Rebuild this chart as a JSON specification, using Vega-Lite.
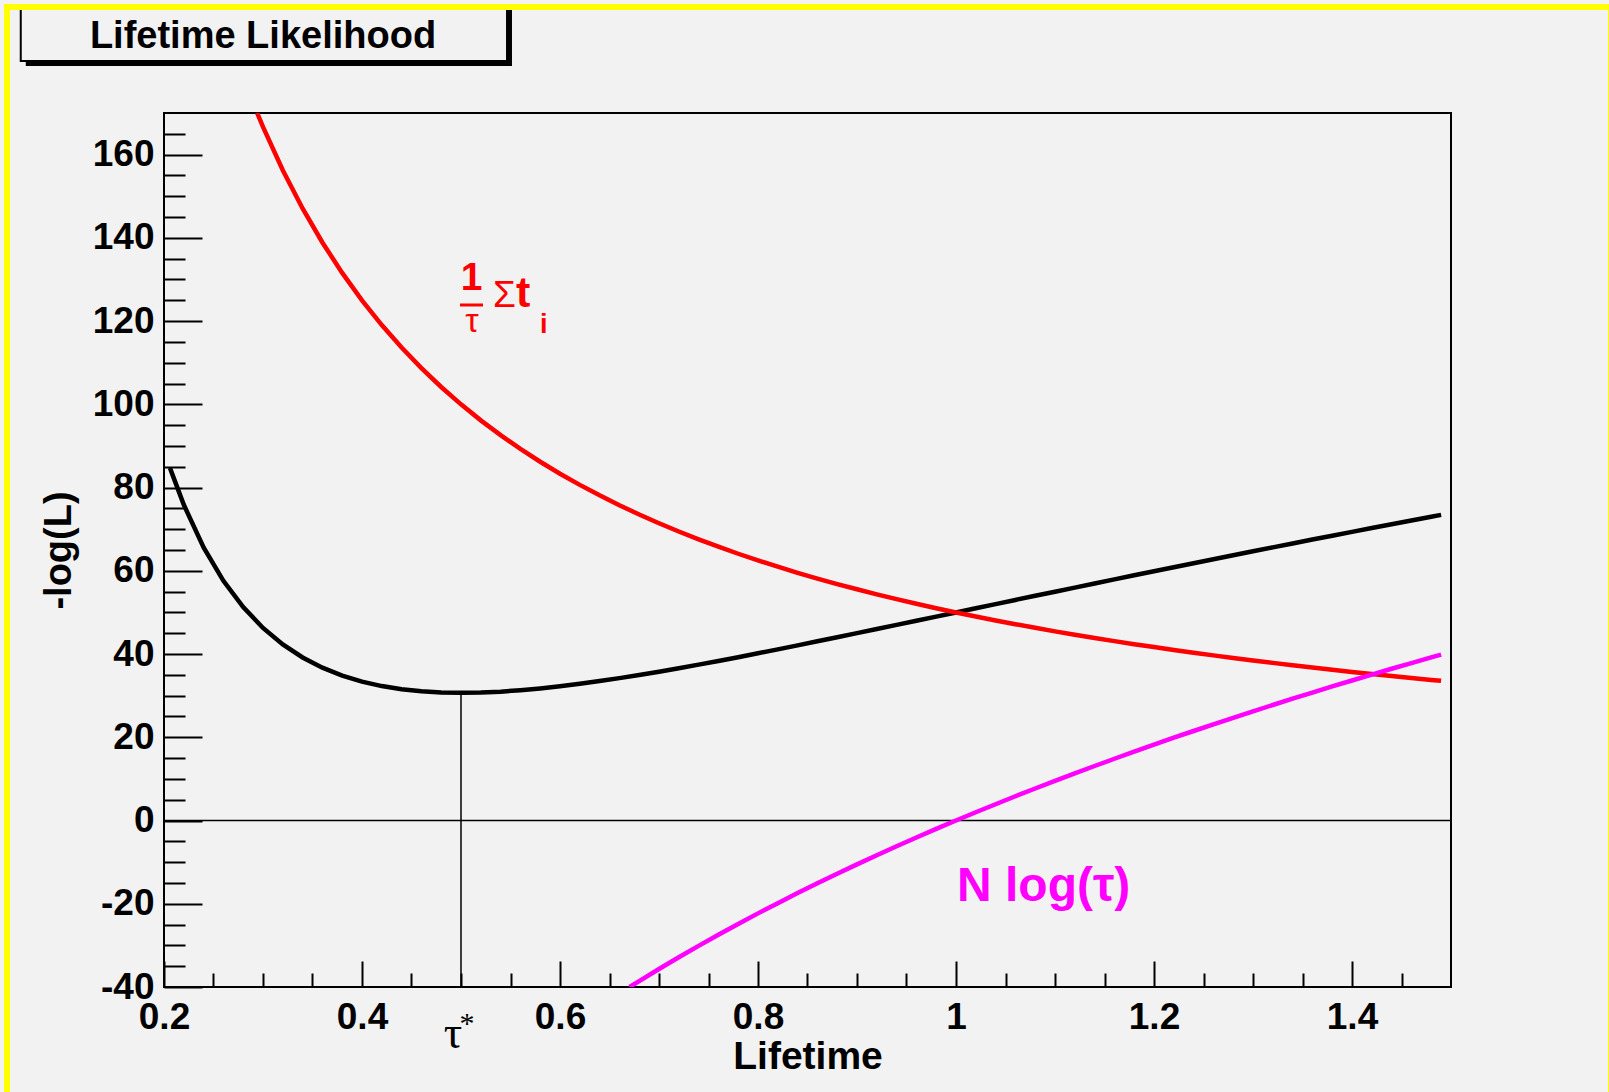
{
  "$schema": "https://vega.github.io/schema/vega-lite/v6.json",
  "width": 1287,
  "height": 874,
  "autosize": "none",
  "padding": {"left": 164, "top": 113, "right": 158, "bottom": 105},
  "background": "#f2f2f2",
  "config": {
    "view": {"stroke": "#000000", "strokeWidth": 2},
    "font": "Liberation Sans",
    "axis": {"domain": false, "grid": false, "labelColor": "#000000", "tickColor": "#000000", "titleColor": "#000000"}
  },
  "datasets": {
    "black": [
      {"tau": 0.206, "v": 84.73}, {"tau": 0.22, "v": 75.86}, {"tau": 0.24, "v": 65.62}, {"tau": 0.26, "v": 57.6},
      {"tau": 0.28, "v": 51.27}, {"tau": 0.3, "v": 46.27}, {"tau": 0.32, "v": 42.31}, {"tau": 0.34, "v": 39.18},
      {"tau": 0.36, "v": 36.72}, {"tau": 0.38, "v": 34.82}, {"tau": 0.4, "v": 33.37}, {"tau": 0.42, "v": 32.3},
      {"tau": 0.44, "v": 31.54}, {"tau": 0.46, "v": 31.05}, {"tau": 0.48, "v": 30.77}, {"tau": 0.5, "v": 30.69},
      {"tau": 0.52, "v": 30.76}, {"tau": 0.54, "v": 30.97}, {"tau": 0.56, "v": 31.31}, {"tau": 0.58, "v": 31.74},
      {"tau": 0.6, "v": 32.25}, {"tau": 0.62, "v": 32.85}, {"tau": 0.64, "v": 33.5}, {"tau": 0.66, "v": 34.21},
      {"tau": 0.68, "v": 34.96}, {"tau": 0.7, "v": 35.76}, {"tau": 0.72, "v": 36.59}, {"tau": 0.74, "v": 37.46},
      {"tau": 0.76, "v": 38.35}, {"tau": 0.78, "v": 39.25}, {"tau": 0.8, "v": 40.19}, {"tau": 0.82, "v": 41.13},
      {"tau": 0.84, "v": 42.08}, {"tau": 0.86, "v": 43.06}, {"tau": 0.88, "v": 44.04}, {"tau": 0.9, "v": 45.02},
      {"tau": 0.92, "v": 46.01}, {"tau": 0.94, "v": 47.0}, {"tau": 0.96, "v": 48.0}, {"tau": 0.98, "v": 49.0},
      {"tau": 1.0, "v": 50.0}, {"tau": 1.02, "v": 51.0}, {"tau": 1.04, "v": 52.0}, {"tau": 1.06, "v": 53.0},
      {"tau": 1.08, "v": 54.0}, {"tau": 1.1, "v": 54.98}, {"tau": 1.12, "v": 55.97}, {"tau": 1.14, "v": 56.96},
      {"tau": 1.16, "v": 57.94}, {"tau": 1.18, "v": 58.92}, {"tau": 1.2, "v": 59.9}, {"tau": 1.22, "v": 60.87},
      {"tau": 1.24, "v": 61.83}, {"tau": 1.26, "v": 62.79}, {"tau": 1.28, "v": 63.75}, {"tau": 1.3, "v": 64.7},
      {"tau": 1.32, "v": 65.64}, {"tau": 1.34, "v": 66.58}, {"tau": 1.36, "v": 67.51}, {"tau": 1.38, "v": 68.44},
      {"tau": 1.4, "v": 69.36}, {"tau": 1.42, "v": 70.28}, {"tau": 1.44, "v": 71.18}, {"tau": 1.46, "v": 72.09},
      {"tau": 1.48, "v": 72.98}, {"tau": 1.49, "v": 73.44}
    ],
    "red": [
      {"tau": 0.2941, "v": 170.0}, {"tau": 0.3, "v": 166.67}, {"tau": 0.32, "v": 156.25}, {"tau": 0.34, "v": 147.06},
      {"tau": 0.36, "v": 138.89}, {"tau": 0.38, "v": 131.58}, {"tau": 0.4, "v": 125.0}, {"tau": 0.42, "v": 119.05},
      {"tau": 0.44, "v": 113.64}, {"tau": 0.46, "v": 108.7}, {"tau": 0.48, "v": 104.17}, {"tau": 0.5, "v": 100.0},
      {"tau": 0.52, "v": 96.15}, {"tau": 0.54, "v": 92.59}, {"tau": 0.56, "v": 89.29}, {"tau": 0.58, "v": 86.21},
      {"tau": 0.6, "v": 83.33}, {"tau": 0.62, "v": 80.65}, {"tau": 0.64, "v": 78.13}, {"tau": 0.66, "v": 75.76},
      {"tau": 0.68, "v": 73.53}, {"tau": 0.7, "v": 71.43}, {"tau": 0.72, "v": 69.44}, {"tau": 0.74, "v": 67.57},
      {"tau": 0.76, "v": 65.79}, {"tau": 0.78, "v": 64.1}, {"tau": 0.8, "v": 62.5}, {"tau": 0.82, "v": 60.98},
      {"tau": 0.84, "v": 59.52}, {"tau": 0.86, "v": 58.14}, {"tau": 0.88, "v": 56.82}, {"tau": 0.9, "v": 55.56},
      {"tau": 0.92, "v": 54.35}, {"tau": 0.94, "v": 53.19}, {"tau": 0.96, "v": 52.08}, {"tau": 0.98, "v": 51.02},
      {"tau": 1.0, "v": 50.0}, {"tau": 1.02, "v": 49.02}, {"tau": 1.04, "v": 48.08}, {"tau": 1.06, "v": 47.17},
      {"tau": 1.08, "v": 46.3}, {"tau": 1.1, "v": 45.45}, {"tau": 1.12, "v": 44.64}, {"tau": 1.14, "v": 43.86},
      {"tau": 1.16, "v": 43.1}, {"tau": 1.18, "v": 42.37}, {"tau": 1.2, "v": 41.67}, {"tau": 1.22, "v": 40.98},
      {"tau": 1.24, "v": 40.32}, {"tau": 1.26, "v": 39.68}, {"tau": 1.28, "v": 39.06}, {"tau": 1.3, "v": 38.46},
      {"tau": 1.32, "v": 37.88}, {"tau": 1.34, "v": 37.31}, {"tau": 1.36, "v": 36.76}, {"tau": 1.38, "v": 36.23},
      {"tau": 1.4, "v": 35.71}, {"tau": 1.42, "v": 35.21}, {"tau": 1.44, "v": 34.72}, {"tau": 1.46, "v": 34.25},
      {"tau": 1.48, "v": 33.78}, {"tau": 1.49, "v": 33.56}
    ],
    "magenta": [
      {"tau": 0.6703, "v": -40.0}, {"tau": 0.68, "v": -38.57}, {"tau": 0.7, "v": -35.67}, {"tau": 0.72, "v": -32.85},
      {"tau": 0.74, "v": -30.11}, {"tau": 0.76, "v": -27.44}, {"tau": 0.78, "v": -24.85}, {"tau": 0.8, "v": -22.31},
      {"tau": 0.82, "v": -19.85}, {"tau": 0.84, "v": -17.44}, {"tau": 0.86, "v": -15.08}, {"tau": 0.88, "v": -12.78},
      {"tau": 0.9, "v": -10.54}, {"tau": 0.92, "v": -8.34}, {"tau": 0.94, "v": -6.19}, {"tau": 0.96, "v": -4.08},
      {"tau": 0.98, "v": -2.02}, {"tau": 1.0, "v": 0.0}, {"tau": 1.02, "v": 1.98}, {"tau": 1.04, "v": 3.92},
      {"tau": 1.06, "v": 5.83}, {"tau": 1.08, "v": 7.7}, {"tau": 1.1, "v": 9.53}, {"tau": 1.12, "v": 11.33},
      {"tau": 1.14, "v": 13.1}, {"tau": 1.16, "v": 14.84}, {"tau": 1.18, "v": 16.55}, {"tau": 1.2, "v": 18.23},
      {"tau": 1.22, "v": 19.89}, {"tau": 1.24, "v": 21.51}, {"tau": 1.26, "v": 23.11}, {"tau": 1.28, "v": 24.69},
      {"tau": 1.3, "v": 26.24}, {"tau": 1.32, "v": 27.76}, {"tau": 1.34, "v": 29.27}, {"tau": 1.36, "v": 30.75},
      {"tau": 1.38, "v": 32.21}, {"tau": 1.4, "v": 33.65}, {"tau": 1.42, "v": 35.07}, {"tau": 1.44, "v": 36.46},
      {"tau": 1.46, "v": 37.84}, {"tau": 1.48, "v": 39.2}, {"tau": 1.49, "v": 39.88}
    ]
  },
  "layer": [
    {
      "data": {"values": [{"x1": 0.0604, "x2": 0.5515, "y1": 181.3, "y2": 195.5}]},
      "mark": {"type": "rect", "color": "#000000", "clip": false},
      "encoding": {
        "x": {"field": "x1", "type": "quantitative", "scale": {"domain": [0.2, 1.5], "nice": false, "zero": false}, "axis": null},
        "x2": {"field": "x2"},
        "y": {"field": "y1", "type": "quantitative", "scale": {"domain": [-40, 170], "nice": false, "zero": false}, "axis": null},
        "y2": {"field": "y2"}
      }
    },
    {
      "data": {"values": [{"x1": 0.0553, "x2": 0.5465, "y1": 182.5, "y2": 195.5}]},
      "mark": {"type": "rect", "fill": "#f2f2f2", "stroke": "#000000", "strokeWidth": 2, "clip": false},
      "encoding": {
        "x": {"field": "x1", "type": "quantitative", "axis": null},
        "x2": {"field": "x2"},
        "y": {"field": "y1", "type": "quantitative", "axis": null},
        "y2": {"field": "y2"}
      }
    },
    {
      "data": {"values": [{"x": 0.3, "y": 185.6, "label": "Lifetime Likelihood"}]},
      "mark": {"type": "text", "font": "Liberation Sans", "fontWeight": "bold", "fontSize": 38, "align": "center", "baseline": "alphabetic", "color": "#000000", "clip": false},
      "encoding": {
        "x": {"field": "x", "type": "quantitative", "axis": null},
        "y": {"field": "y", "type": "quantitative", "axis": null},
        "text": {"field": "label"}
      }
    },
    {
      "data": {"values": [{"y": 0}]},
      "mark": {"type": "rule", "color": "#000000", "strokeWidth": 1.5},
      "encoding": {"y": {"field": "y", "type": "quantitative", "axis": null}}
    },
    {
      "data": {"values": [{"x": 0.5, "y1": -40, "y2": 30.69}]},
      "mark": {"type": "rule", "color": "#000000", "strokeWidth": 1.5},
      "encoding": {
        "x": {"field": "x", "type": "quantitative", "axis": null},
        "y": {"field": "y1", "type": "quantitative", "axis": null},
        "y2": {"field": "y2"}
      }
    },
    {
      "data": {"name": "black"},
      "mark": {"type": "line", "color": "#000000", "strokeWidth": 4.5, "clip": true},
      "encoding": {
        "x": {"field": "tau", "type": "quantitative", "axis": {
          "orient": "bottom", "values": [0.2, 0.4, 0.6, 0.8, 1, 1.2, 1.4], "format": "~g", "ticks": false,
          "labelPadding": 12, "labelFont": "Liberation Sans", "labelFontWeight": "bold", "labelFontSize": 37,
          "labelFlush": false, "labelOverlap": false, "labelBound": false,
          "title": "Lifetime", "titleFont": "Liberation Sans", "titleFontWeight": "bold", "titleFontSize": 39, "titlePadding": 2
        }},
        "y": {"field": "v", "type": "quantitative", "axis": {
          "orient": "left", "values": [-40, -20, 0, 20, 40, 60, 80, 100, 120, 140, 160], "labelExpr": "'' + datum.value", "ticks": false,
          "labelPadding": 10, "labelFont": "Liberation Sans", "labelFontWeight": "bold", "labelFontSize": 37,
          "labelFlush": false, "labelOverlap": false, "labelBound": false,
          "title": "-log(L)", "titleFont": "Liberation Sans", "titleFontWeight": "bold", "titleFontSize": 38, "titlePadding": 14
        }}
      }
    },
    {
      "data": {"name": "red"},
      "mark": {"type": "line", "color": "#ff0000", "strokeWidth": 4.5, "clip": true},
      "encoding": {
        "x": {"field": "tau", "type": "quantitative", "axis": {
          "orient": "bottom", "values": [0.2, 0.4, 0.6, 0.8, 1, 1.2, 1.4], "labels": false, "title": null,
          "ticks": true, "tickSize": -26, "tickWidth": 2
        }},
        "y": {"field": "v", "type": "quantitative", "axis": {
          "orient": "left", "values": [-40, -20, 0, 20, 40, 60, 80, 100, 120, 140, 160], "labels": false, "title": null,
          "ticks": true, "tickSize": -38, "tickWidth": 2
        }}
      }
    },
    {
      "data": {"name": "magenta"},
      "mark": {"type": "line", "color": "#ff00ff", "strokeWidth": 4.5, "clip": true},
      "encoding": {
        "x": {"field": "tau", "type": "quantitative", "axis": {
          "orient": "bottom", "values": [0.25, 0.3, 0.35, 0.45, 0.5, 0.55, 0.65, 0.7, 0.75, 0.85, 0.9, 0.95, 1.05, 1.1, 1.15, 1.25, 1.3, 1.35, 1.45],
          "labels": false, "title": null, "ticks": true, "tickSize": -14, "tickWidth": 2
        }},
        "y": {"field": "v", "type": "quantitative", "axis": {
          "orient": "left", "values": [-35, -30, -25, -15, -10, -5, 5, 10, 15, 25, 30, 35, 45, 50, 55, 65, 70, 75, 85, 90, 95, 105, 110, 115, 125, 130, 135, 145, 150, 155, 165],
          "labels": false, "title": null, "ticks": true, "tickSize": -21, "tickWidth": 2
        }}
      }
    },
    {
      "data": {"values": [{"x": 0.5106, "y": 127.47, "label": "1"}]},
      "mark": {"type": "text", "font": "Liberation Sans", "fontWeight": "bold", "fontSize": 39, "align": "center", "baseline": "alphabetic", "color": "#ff0000", "clip": false},
      "encoding": {
        "x": {"field": "x", "type": "quantitative", "axis": null},
        "y": {"field": "y", "type": "quantitative", "axis": null},
        "text": {"field": "label"}
      }
    },
    {
      "data": {"values": [{"x": 0.5556, "y": 123.39, "label": "t"}]},
      "mark": {"type": "text", "font": "Liberation Sans", "fontWeight": "bold", "fontSize": 43, "align": "left", "baseline": "alphabetic", "color": "#ff0000", "clip": false},
      "encoding": {
        "x": {"field": "x", "type": "quantitative", "axis": null},
        "y": {"field": "y", "type": "quantitative", "axis": null},
        "text": {"field": "label"}
      }
    },
    {
      "data": {"values": [{"x": 0.5111, "y": 117.38, "label": "τ"}]},
      "mark": {"type": "text", "font": "Liberation Sans", "fontSize": 34, "align": "center", "baseline": "alphabetic", "color": "#ff0000", "clip": false},
      "encoding": {
        "x": {"field": "x", "type": "quantitative", "axis": null},
        "y": {"field": "y", "type": "quantitative", "axis": null},
        "text": {"field": "label"}
      }
    },
    {
      "data": {"values": [{"x": 0.5323, "y": 123.39, "label": "Σ"}]},
      "mark": {"type": "text", "font": "Liberation Sans", "fontSize": 37, "align": "left", "baseline": "alphabetic", "color": "#ff0000", "clip": false},
      "encoding": {
        "x": {"field": "x", "type": "quantitative", "axis": null},
        "y": {"field": "y", "type": "quantitative", "axis": null},
        "text": {"field": "label"}
      }
    },
    {
      "data": {"values": [{"x": 0.5798, "y": 117.14, "label": "i"}]},
      "mark": {"type": "text", "font": "Liberation Sans", "fontWeight": "bold", "fontSize": 27, "align": "left", "baseline": "alphabetic", "color": "#ff0000", "clip": false},
      "encoding": {
        "x": {"field": "x", "type": "quantitative", "axis": null},
        "y": {"field": "y", "type": "quantitative", "axis": null},
        "text": {"field": "label"}
      }
    },
    {
      "data": {"values": [{"x1": 0.499, "x2": 0.5222, "y": 123.87}]},
      "mark": {"type": "rule", "color": "#ff0000", "strokeWidth": 3, "clip": false},
      "encoding": {
        "x": {"field": "x1", "type": "quantitative", "axis": null},
        "x2": {"field": "x2"},
        "y": {"field": "y", "type": "quantitative", "axis": null}
      }
    },
    {
      "data": {"values": [{"x": 1.001, "y": -19.34, "label": "N log(τ)"}]},
      "mark": {"type": "text", "font": "Liberation Sans", "fontWeight": "bold", "fontSize": 48, "align": "left", "baseline": "alphabetic", "color": "#ff00ff", "clip": false},
      "encoding": {
        "x": {"field": "x", "type": "quantitative", "axis": null},
        "y": {"field": "y", "type": "quantitative", "axis": null},
        "text": {"field": "label"}
      }
    },
    {
      "data": {"values": [{"x": 0.4919, "y": -54.66, "label": "τ"}]},
      "mark": {"type": "text", "font": "Liberation Serif", "fontSize": 46, "align": "center", "baseline": "alphabetic", "color": "#000000", "clip": false},
      "encoding": {
        "x": {"field": "x", "type": "quantitative", "axis": null},
        "y": {"field": "y", "type": "quantitative", "axis": null},
        "text": {"field": "label"}
      }
    },
    {
      "data": {"values": [{"x": 0.5061, "y": -51.0, "label": "*"}]},
      "mark": {"type": "text", "font": "Liberation Serif", "fontSize": 30, "align": "center", "baseline": "alphabetic", "color": "#000000", "clip": false},
      "encoding": {
        "x": {"field": "x", "type": "quantitative", "axis": null},
        "y": {"field": "y", "type": "quantitative", "axis": null},
        "text": {"field": "label"}
      }
    },
    {
      "data": {"values": [{"x1": 0.0414, "x2": 1.6616, "y1": -70, "y2": 195.47}]},
      "mark": {"type": "rect", "fill": null, "fillOpacity": 0, "stroke": "#ffff00", "strokeWidth": 6, "clip": false},
      "encoding": {
        "x": {"field": "x1", "type": "quantitative", "axis": null},
        "x2": {"field": "x2"},
        "y": {"field": "y1", "type": "quantitative", "axis": null},
        "y2": {"field": "y2"}
      }
    }
  ],
  "resolve": {"axis": {"x": "independent", "y": "independent"}}
}
